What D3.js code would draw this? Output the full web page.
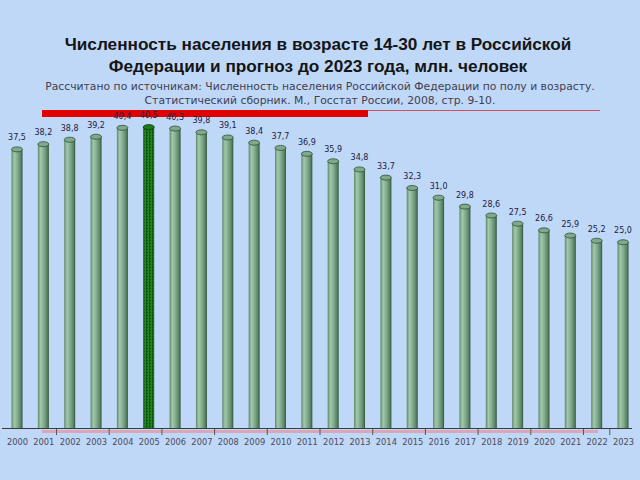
<!DOCTYPE html>
<html><head><meta charset="utf-8">
<script src="https://cdn.jsdelivr.net/npm/d3@7"></script>
<style>html,body{margin:0;padding:0;background:#C0D8F8;}svg{display:block;}</style>
</head><body>
<script>
const years = ["2000","2001","2002","2003","2004","2005","2006","2007","2008","2009","2010","2011","2012","2013","2014","2015","2016","2017","2018","2019","2020","2021","2022","2023"];
const values = [37.5,38.2,38.8,39.2,40.4,40.5,40.3,39.8,39.1,38.4,37.7,36.9,35.9,34.8,33.7,32.3,31.0,29.8,28.6,27.5,26.6,25.9,25.2,25.0];
const highlightYear = "2005";
const titleLines = ["Численность населения в возрасте 14-30 лет в Российской","Федерации и прогноз до 2023 года, млн. человек"];
const sourceLines = ["Рассчитано по источникам: Численность населения Российской Федерации по полу и возрасту.","Статистический сборник. М., Госстат России, 2008, стр. 9-10."];

const W=640,H=480;
const svg=d3.select("body").append("svg").attr("width",W).attr("height",H);
svg.append("rect").attr("width",W).attr("height",H).attr("fill","#C0D8F8");

const defs=svg.append("defs");
const g1=defs.append("linearGradient").attr("id","cyl").attr("x1","0").attr("x2","1");
[["0","#5c8a69"],["0.25","#a4c8ab"],["0.55","#80ab8c"],["0.85","#588363"],["1","#2f4f38"]].forEach(s=>g1.append("stop").attr("offset",s[0]).attr("stop-color",s[1]));
const g2=defs.append("linearGradient").attr("id","cylh").attr("x1","0").attr("x2","1");
[["0","#0f5a10"],["0.3","#2c9a2a"],["0.6","#1c7d1c"],["1","#0a3a0a"]].forEach(s=>g2.append("stop").attr("offset",s[0]).attr("stop-color",s[1]));
const pat=defs.append("pattern").attr("id","dots").attr("width",3).attr("height",3).attr("patternUnits","userSpaceOnUse");
pat.append("rect").attr("width",3).attr("height",3).attr("fill","url(#cylh)");
pat.append("rect").attr("width",1).attr("height",1).attr("fill","#0a400a").attr("opacity",0.6);

// title
svg.selectAll("text.title").data(titleLines).join("text").attr("class","title")
 .attr("x",318).attr("y",(d,i)=>49.5+i*22.5).attr("text-anchor","middle")
 .attr("font-family","Arial, 'Liberation Sans', sans-serif").attr("font-weight","bold").attr("font-size",17.2)
 .attr("fill","#151515").text(d=>d);
svg.selectAll("text.src").data(sourceLines).join("text").attr("class","src")
 .attr("x",320).attr("y",(d,i)=>90+i*14).attr("text-anchor","middle")
 .attr("font-family","'DejaVu Sans', Verdana, sans-serif").attr("font-size",10.8)
 .attr("fill","#404050").text(d=>d);

// red rule
svg.append("line").attr("x1",42).attr("x2",600).attr("y1",110.5).attr("y2",110.5).attr("stroke","#d05060").attr("stroke-width",1);
svg.append("rect").attr("x",42).attr("y",110).attr("width",326).attr("height",7).attr("fill","#e00000");

const x=d3.scalePoint().domain(years).range([17,623]);
const y=d3.scaleLinear().domain([0,50]).range([428,428-50*7.43]);
const bw=11, ry=2.5;

// floor
svg.append("rect").attr("x",42).attr("y",430).attr("width",556).attr("height",3).attr("fill","#d8a8b8");
svg.append("line").attr("x1",2).attr("x2",632).attr("y1",428.5).attr("y2",428.5).attr("stroke","#3a3a3a").attr("stroke-width",1.2);
const xAxis=d3.axisBottom(x).tickSize(0).tickPadding(0);
const ax=svg.append("g").attr("transform","translate(0,445)").call(xAxis);
ax.select(".domain").remove();
ax.selectAll("text").attr("font-family","'DejaVu Sans', Verdana, sans-serif").attr("font-size",8.3).attr("fill","#4a4a5a").attr("dy",0);
const step=x.step();
svg.selectAll("line.tk").data(years.filter((d,i)=>i%2===0||i===23)).join("line").attr("class","tk")
 .attr("x1",d=>x(d)-step/2+ (d==="2000"?-12:0)).attr("x2",d=>x(d)-step/2+(d==="2000"?-12:0))
 .attr("y1",429).attr("y2",435).attr("stroke","#555").attr("stroke-width",1);

// bars
const bars=svg.selectAll("g.bar").data(years).join("g").attr("class","bar");
bars.append("rect").attr("x",d=>x(d)-bw/2).attr("width",bw)
 .attr("y",(d,i)=>y(values[i])).attr("height",(d,i)=>y(0)-y(values[i]))
 .attr("fill",d=>d===highlightYear?"url(#dots)":"url(#cyl)");
bars.append("ellipse").attr("cx",d=>x(d)).attr("cy",(d,i)=>y(values[i])).attr("rx",bw/2).attr("ry",ry)
 .attr("fill",d=>d===highlightYear?"#1d7a1d":"#7fa98a").attr("stroke",d=>d===highlightYear?"#0a3a0a":"#2f4f38").attr("stroke-width",0.8);
bars.append("text").attr("x",d=>x(d)).attr("y",(d,i)=>y(values[i])-9).attr("text-anchor","middle")
 .attr("font-family","'DejaVu Sans', Verdana, sans-serif").attr("font-size",8).attr("fill","#1a2040")
 .text((d,i)=>values[i].toFixed(1).replace(".",","));
</script>
</body></html>
